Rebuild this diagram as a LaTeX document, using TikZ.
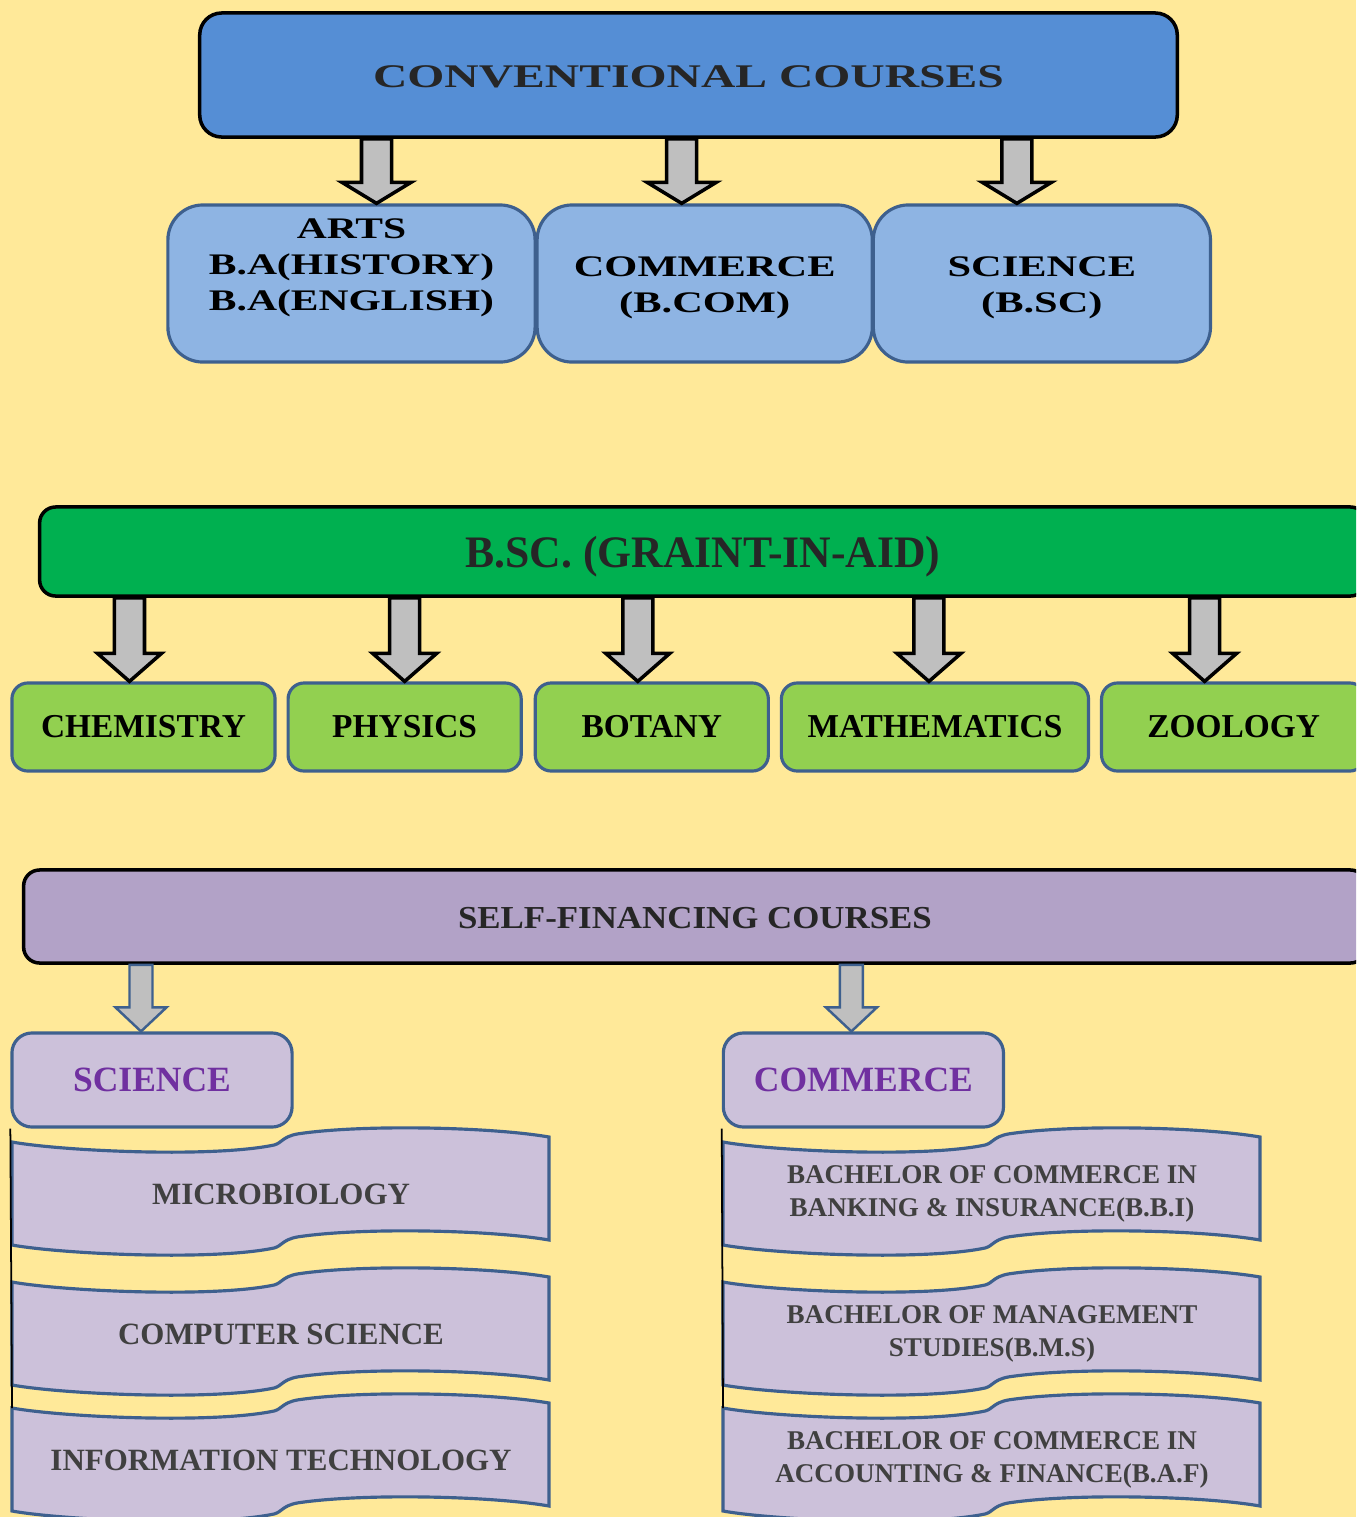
\documentclass[tikz,border=0pt]{standalone}
\usepackage{fontspec}
\setmainfont{Liberation Serif}
\usepackage{graphicx}
\usetikzlibrary{arrows,shapes}
\usetikzlibrary{positioning,calc}

\definecolor{paper}{RGB}{255,233,153}
\definecolor{convblue}{RGB}{85,142,213}
\definecolor{paleblue}{RGB}{142,180,227}
\definecolor{aidgreen}{RGB}{0,176,80}
\definecolor{limegreen}{RGB}{146,208,80}
\definecolor{selfviolet}{RGB}{178,162,199}
\definecolor{lilac}{RGB}{204,193,218}
\definecolor{deeppurple}{RGB}{112,48,160}
\definecolor{edgeblue}{RGB}{62,96,142}
\definecolor{arrowgray}{RGB}{191,191,191}
\definecolor{inkgray}{RGB}{38,38,38}
\definecolor{textgray}{RGB}{64,64,64}

\newcommand{\widetext}[2][1.4]{\scalebox{#1}[1]{#2}}
\newcommand{\lowertext}[2]{\raisebox{-#1}[\height][\depth]{#2}}

\tikzstyle{header} = [draw=black, line width=1pt, rounded corners=0.16cm,
    inner sep=0pt, text=inkgray]
\tikzstyle{course} = [draw=edgeblue, line width=0.9pt, rounded corners=0.35cm,
    inner sep=0pt, fill=paleblue, minimum height=1.57cm, text=black,
    font=\bfseries\fontsize{8.5pt}{10.2pt}\selectfont]
\tikzstyle{subject} = [draw=edgeblue, line width=0.9pt, rounded corners=0.16cm,
    inner sep=0pt, fill=limegreen, minimum height=0.88cm, text=black,
    font=\bfseries\fontsize{9.5pt}{11pt}\selectfont]
\tikzstyle{stream} = [draw=edgeblue, line width=0.9pt, rounded corners=0.2cm,
    inner sep=0pt, fill=lilac, minimum width=2.8cm, minimum height=0.94cm,
    text=deeppurple, font=\bfseries\fontsize{10.1pt}{12pt}\selectfont]
\tikzstyle{wave} = [draw=edgeblue, line width=0.9pt, fill=lilac]
\tikzstyle{wavetext} = [inner sep=0pt, align=center, text=textgray,
    font=\bfseries\fontsize{8.8pt}{10.2pt}\selectfont]
\tikzstyle{wavesmall} = [inner sep=0pt, align=center, text=textgray,
    font=\bfseries\fontsize{7.7pt}{9.4pt}\selectfont]

\tikzset{
  blockarrow/.style args={#1/#2/#3}{fill=arrowgray, line join=miter,
    to path={let \p1=(\tikztostart), \p2=(\tikztotarget) in
      (\x1-#1,\y1) -- (\x1-#1,\y2+#3) -- (\x1-#2,\y2+#3) -- (\x1,\y2)
      -- (\x1+#2,\y2+#3) -- (\x1+#1,\y2+#3) -- (\x1+#1,\y1) -- cycle}}
}
\tikzstyle{convarrow} = [blockarrow=0.15cm/0.345cm/0.21cm, draw=black, line width=1pt]
\tikzstyle{aidarrow} = [blockarrow=0.15cm/0.32cm/0.28cm, draw=black, line width=1pt]
\tikzstyle{selfarrow} = [blockarrow=0.115cm/0.255cm/0.24cm, draw=edgeblue, line width=0.7pt]

% wavy banner: style, name, x, y (top left), text
\newcommand{\wavebanner}[5][wavetext]{%
  \coordinate (#2-nw) at (#3,#4);
  \filldraw[wave, shift={(#2-nw)}] (0,0) .. controls (50,9) and (200,16) .. (262,3)
    .. controls (270,1) and (270,-5) .. (285,-8)
    .. controls (350,-18) and (480,-15) .. (537,-5)
    -- (537,98) .. controls (480,88) and (350,85) .. (285,95)
    .. controls (270,98) and (270,104) .. (262,106)
    .. controls (200,119) and (50,112) .. (0,103) -- cycle;
  \node[#1] (#2) at ($(#2-nw)+(269,52)$) {#5};}

\begin{document}
\begin{tikzpicture}[x=0.01cm, y=-0.01cm]
  \useasboundingbox (0,0) rectangle (1356,1517);
  \clip (0,0) rectangle (1356,1517);
  \fill[paper] (0,0) rectangle (1356,1517);

  % Place nodes
  \node [header, fill=convblue, rounded corners=0.22cm, minimum width=9.77cm,
    minimum height=1.24cm, font=\bfseries\fontsize{9.4pt}{11pt}\selectfont]
    (conv) at (688.5,75) {\widetext[1.44]{\lowertext{0.02cm}{CONVENTIONAL COURSES}}};
  \node [course, minimum width=3.67cm] (arts) at (351.5,283.5)
    {\widetext[1.39]{\lowertext{0.02cm}{\begin{tabular}{@{}c@{}}ARTS\\B.A(HISTORY)\\B.A(ENGLISH)\\ {}\end{tabular}}}};
  \node [course, minimum width=3.35cm, right of=arts, node distance=3.53cm] (bcom)
    {\widetext[1.42]{\lowertext{0.04cm}{\begin{tabular}{@{}c@{}}COMMERCE\\(B.COM)\end{tabular}}}};
  \node [course, minimum width=3.37cm, right of=bcom, node distance=3.37cm] (bsc)
    {\widetext[1.42]{\lowertext{0.04cm}{\begin{tabular}{@{}c@{}}SCIENCE\\(B.SC)\end{tabular}}}};

  \node [header, fill=aidgreen, minimum width=13.26cm, minimum height=0.89cm,
    font=\bfseries\fontsize{12.8pt}{15pt}\selectfont]
    (aid) at (703,551.5) {\widetext[0.97]{\lowertext{0.05cm}{B.SC. (GRAINT-IN-AID)}}};
  \node [subject, minimum width=2.63cm] (chem) at (143.5,727) {CHEMISTRY};
  \node [subject, minimum width=2.33cm, right of=chem, node distance=2.61cm] (phys) {PHYSICS};
  \node [subject, minimum width=2.33cm, right of=phys, node distance=2.47cm] (bot) {BOTANY};
  \node [subject, minimum width=3.07cm, right of=bot, node distance=2.83cm] (math) {MATHEMATICS};
  \node [subject, minimum width=2.64cm, right of=math, node distance=2.985cm] (zoo) {ZOOLOGY};

  \node [header, fill=selfviolet, minimum width=13.42cm, minimum height=0.93cm,
    font=\bfseries\fontsize{9.1pt}{11pt}\selectfont]
    (self) at (695,916.5) {\widetext[1.09]{\lowertext{0.02cm}{SELF-FINANCING COURSES}}};
  \node [stream] (scis) at (152,1080) {SCIENCE};
  \node [stream, right of=scis, node distance=7.11cm] (coms) {COMMERCE};

  \wavebanner{mic}{12}{1142}{MICROBIOLOGY}
  \wavebanner{cs}{12}{1282}{COMPUTER SCIENCE}
  \wavebanner{it}{12}{1408}{INFORMATION TECHNOLOGY}
  \wavebanner[wavesmall]{bbi}{723}{1142}{BACHELOR OF COMMERCE IN\\BANKING \& INSURANCE(B.B.I)}
  \wavebanner[wavesmall]{bms}{723}{1282}{BACHELOR OF MANAGEMENT\\STUDIES(B.M.S)}
  \wavebanner[wavesmall]{baf}{723}{1408}{BACHELOR OF COMMERCE IN\\ACCOUNTING \& FINANCE(B.A.F)}

  % Draw arrows
  \draw [convarrow] ([xshift=0.25cm]arts.north |- conv.south) to (arts.north);
  \draw [convarrow] ([xshift=-0.23cm]bcom.north |- conv.south) to (bcom.north);
  \draw [convarrow] ([xshift=-0.25cm]bsc.north |- conv.south) to (bsc.north);
  \draw [aidarrow] ([xshift=-0.14cm]chem.north |- aid.south) to (chem.north);
  \draw [aidarrow] (phys.north |- aid.south) to (phys.north);
  \draw [aidarrow] ([xshift=-0.14cm]bot.north |- aid.south) to (bot.north);
  \draw [aidarrow] ([xshift=-0.06cm]math.north |- aid.south) to (math.north);
  \draw [aidarrow] ([xshift=-0.29cm]zoo.north |- aid.south) to (zoo.north);
  \draw [selfarrow] ([xshift=-0.11cm]scis.north |- self.south) to (scis.north);
  \draw [selfarrow] ([xshift=-0.12cm]coms.north |- self.south) to (coms.north);
  \draw [line width=0.5pt] (scis.south west) -- (it-nw);
  \draw [line width=0.5pt] (coms.south west) -- (baf-nw);
\end{tikzpicture}
\end{document}
